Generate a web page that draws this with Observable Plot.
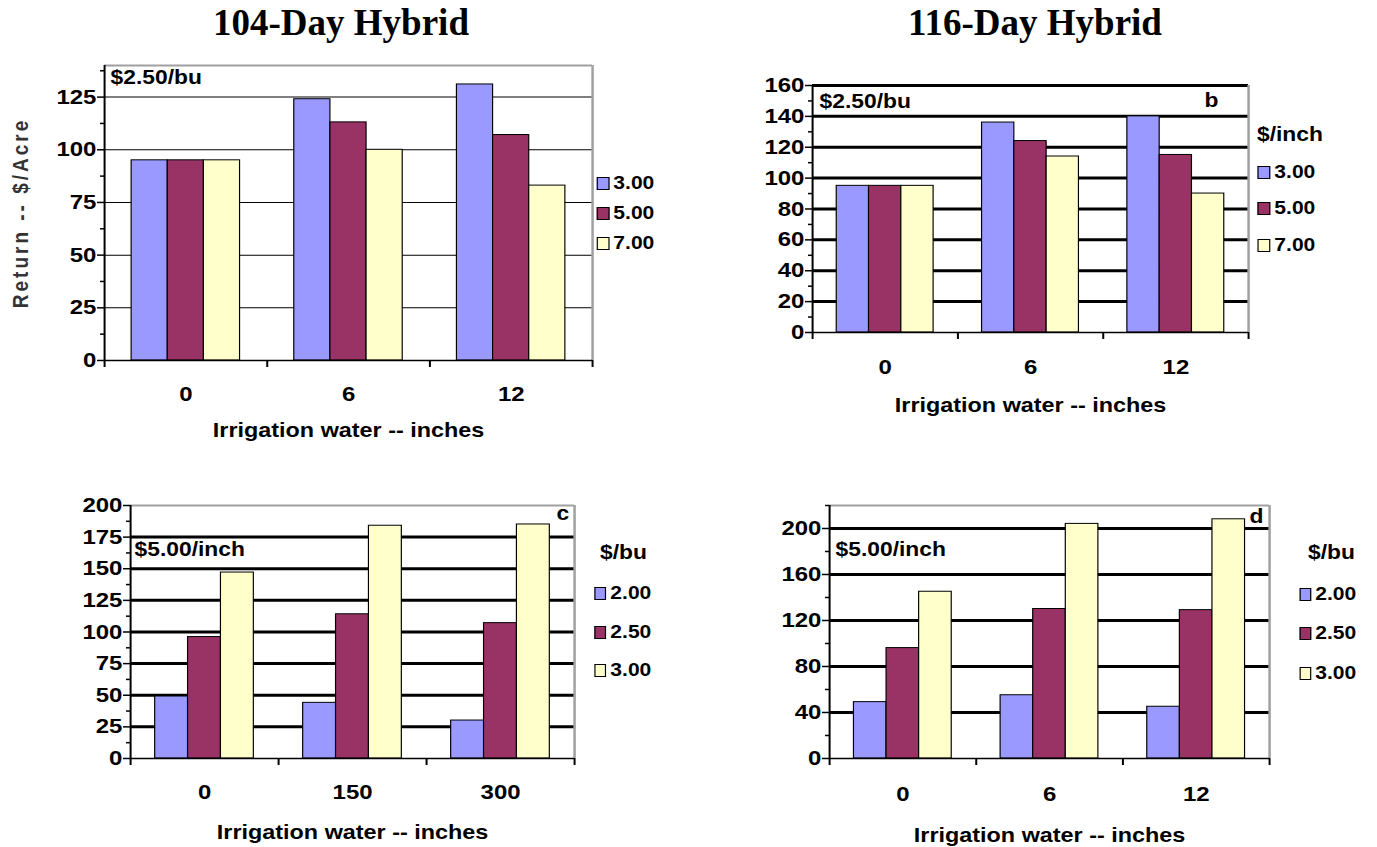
<!DOCTYPE html>
<html><head><meta charset="utf-8">
<script src="https://cdn.jsdelivr.net/npm/d3@7"></script>
<script src="https://cdn.jsdelivr.net/npm/@observablehq/plot@0.6"></script>
<style>
body{margin:0;background:#fff;}
#root{position:relative;width:1377px;height:847px;overflow:hidden;font-family:"Liberation Sans",Arial,sans-serif;}
.title{position:absolute;top:4px;width:690px;text-align:center;font:bold 37px/37px "Liberation Serif","Times New Roman",serif;color:#000;}
.panel{position:absolute;transform-origin:0 0;}
.legend-item{position:absolute;display:flex;align-items:center;height:24px;font-weight:bold;font-size:18px;color:#000;white-space:nowrap;}
.legend-title{font-size:19.5px;}
.swatch{display:inline-block;height:11px;border:1.5px solid #000;}
</style></head><body><div id="root"></div>
<script>
// horizontal stretch of the original chart images
const S = 1.17;

// categories
const irrigationInches = ["0", "6", "12"];
const irrigationC = ["0", "150", "300"];
const waterCostSeries = ["3.00", "5.00", "7.00"];   // $/inch
const cornPriceSeries = ["2.00", "2.50", "3.00"];   // $/bu
const seriesColors = ["#9999FF", "#993366", "#FFFFCC"];

// a: 104-day hybrid, $2.50/bu, by water cost
const a_300 = [95, 124, 131];
const a_500 = [95, 113, 107];
const a_700 = [95, 100, 83];
// b: 116-day hybrid, $2.50/bu, by water cost
const b_300 = [95, 136, 140];
const b_500 = [95, 124, 115];
const b_700 = [95, 114, 90];
// c: 104-day hybrid, $5.00/inch, by corn price
const c_200 = [49, 44, 30];
const c_250 = [96, 114, 107];
const c_300 = [147, 184, 185];
// d: 116-day hybrid, $5.00/inch, by corn price
const d_200 = [49, 55, 45];
const d_250 = [96, 130, 129];
const d_300 = [145, 204, 208];

// axis ticks
const ticksA = [0, 25, 50, 75, 100, 125];
const minorA = [12.5, 37.5, 62.5, 87.5, 112.5, 137.5];
const ticksB = [0, 20, 40, 60, 80, 100, 120, 140, 160];
const minorB = [10, 30, 50, 70, 90, 110, 130, 150];
const ticksC = [0, 25, 50, 75, 100, 125, 150, 175, 200];
const minorC = [12.5, 37.5, 62.5, 87.5, 112.5, 137.5, 162.5, 187.5];
const ticksD = [0, 40, 80, 120, 160, 200];
const minorD = [20, 60, 100, 140, 180, 220];

const xTitle = "Irrigation water -- inches";
const root = document.getElementById("root");
const u = v => v / S;

function addTitle(text, left) {
  const t = document.createElement("div");
  t.className = "title";
  t.style.left = left + "px";
  t.textContent = text;
  root.appendChild(t);
}

function panel(c) {
  const rows = [];
  c.values.forEach((vals, s) => vals.forEach((v, g) => rows.push({g, s, key: c.series[s], v})));
  const n = c.groups.length;
  const marks = [
    Plot.ruleY(c.grid, {stroke: "#000", strokeWidth: c.gridW}),
    c.topGray ? Plot.ruleY([c.yMax], {stroke: "#a0a0a0", strokeWidth: 2}) : null,
    Plot.ruleX([n], {stroke: "#a0a0a0", strokeWidth: u(2.5)}),
    Plot.rectY(rows, {
      x1: d => d.g + (0.75 + d.s) / 4.5,
      x2: d => d.g + (1.75 + d.s) / 4.5,
      y1: 0, y2: "v", fill: "key", stroke: "#000", strokeWidth: 1
    }),
    Plot.ruleY([0], {stroke: "#000", strokeWidth: 1.5}),
    Plot.ruleX([0], {stroke: "#000", strokeWidth: u(2)}),
    Plot.axisY({ticks: c.major, tickSize: u(7), tickPadding: 1, label: null, fontSize: 20.5, fontWeight: "bold", strokeWidth: 1.5}),
    Plot.axisY({ticks: c.minor, tickSize: u(4), tickFormat: () => "", label: null, strokeWidth: 1.5}),
    Plot.axisX({ticks: d3.range(n + 1), tickSize: 7, tickFormat: () => "", label: null, strokeWidth: u(2)}),
    Plot.axisX({ticks: c.groups.map((_, i) => i + 0.5), tickSize: 0, tickPadding: c.tickDy,
      tickFormat: t => c.groups[Math.floor(t)], label: null, fontSize: 20.5, fontWeight: "bold"}),
    Plot.text([xTitle], {frameAnchor: "bottom", dy: c.titleDy, lineAnchor: "top", textAnchor: "middle", fontSize: 20, fontWeight: "bold"}),
    ...c.annotations.map(a => Plot.text([a.text], {
      frameAnchor: a.anchor, dx: u(a.dx), dy: a.dy, lineAnchor: "top",
      textAnchor: "start", fontSize: 19.5, fontWeight: "bold"
    })),
    c.yLabel ? Plot.text([c.yLabel], {frameAnchor: "left", dx: u(c.yLabelDx), rotate: -90,
      textAnchor: "middle", lineAnchor: "middle", fontSize: 19, fontWeight: "bold", fill: "#333"}) : null
  ];
  const svg = Plot.plot({
    width: u(c.width), height: c.height,
    marginLeft: u(c.mL), marginRight: u(c.mR), marginTop: c.mT, marginBottom: c.mB,
    x: {domain: [0, n]},
    y: {domain: [0, c.yMax]},
    color: {domain: c.series, range: seriesColors},
    style: {fontFamily: "'Liberation Sans', Arial, sans-serif", fontSize: "20px", fontWeight: "bold", color: "#000", background: "transparent", overflow: "visible"},
    marks
  });
  d3.select(svg).selectAll("text").filter(function() { return this.textContent === c.yLabel; })
    .style("letter-spacing", "3px");
  const wrap = document.createElement("div");
  wrap.className = "panel";
  wrap.style.left = c.left + "px";
  wrap.style.top = c.top + "px";
  wrap.style.width = u(c.width) + "px";
  wrap.style.height = c.height + "px";
  wrap.style.transform = `scaleX(${S})`;
  wrap.appendChild(svg);
  svg.style.position = "absolute";
  svg.style.left = "0px";
  svg.style.top = "0px";
  if (c.legendTitle) {
    const lt = document.createElement("div");
    lt.className = "legend-item legend-title";
    lt.style.left = u(c.legendTitleX) + "px";
    lt.style.top = (c.legendTitleY - 12) + "px";
    lt.textContent = c.legendTitle;
    wrap.appendChild(lt);
  }
  c.series.forEach((name, i) => {
    const it = document.createElement("div");
    it.className = "legend-item";
    it.style.left = u(c.legendX) + "px";
    it.style.top = (c.legendY[i] - 12) + "px";
    const sw = document.createElement("span");
    sw.className = "swatch";
    sw.style.width = u(10) + "px";
    sw.style.background = seriesColors[i];
    sw.style.marginRight = u(4) + "px";
    it.appendChild(sw);
    it.appendChild(document.createTextNode(name));
    wrap.appendChild(it);
  });
  root.appendChild(wrap);
}

addTitle("104-Day Hybrid", -4);
addTitle("116-Day Hybrid", 690);

panel({
  left: 0, top: 50, width: 690, height: 400, mL: 104, mR: 98, mT: 15, mB: 90,
  groups: irrigationInches, series: waterCostSeries, values: [a_300, a_500, a_700],
  yMax: 140, major: ticksA, minor: minorA, grid: ticksA.slice(1), gridW: 1, topGray: true,
  tickDy: 26, titleDy: 62,
  annotations: [{text: "$2.50/bu", anchor: "top-left", dx: 6, dy: 5}],
  yLabel: "Return -- $/Acre", yLabelDx: -84,
  legendX: 597, legendY: [133, 163, 193]
});

panel({
  left: 690, top: 50, width: 687, height: 400, mL: 122, mR: 129, mT: 35, mB: 118,
  groups: irrigationInches, series: waterCostSeries, values: [b_300, b_500, b_700],
  yMax: 160, major: ticksB, minor: minorB, grid: ticksB.slice(1), gridW: 3, topGray: false,
  tickDy: 27, titleDy: 65,
  annotations: [{text: "$2.50/bu", anchor: "top-left", dx: 7, dy: 9},
                {text: "b", anchor: "top-right", dx: -44, dy: 8}],
  legendTitle: "$/inch", legendTitleX: 567, legendTitleY: 84,
  legendX: 568, legendY: [122, 158, 195]
});

panel({
  left: 0, top: 470, width: 690, height: 377, mL: 130, mR: 116, mT: 35, mB: 89,
  groups: irrigationC, series: cornPriceSeries, values: [c_200, c_250, c_300],
  yMax: 200, major: ticksC, minor: minorC, grid: ticksC.slice(1, -1), gridW: 3, topGray: true,
  tickDy: 26, titleDy: 66,
  annotations: [{text: "$5.00/inch", anchor: "top-left", dx: 4, dy: 37},
                {text: "c", anchor: "top-right", dx: -18, dy: 1}],
  legendTitle: "$/bu", legendTitleX: 600, legendTitleY: 82,
  legendX: 594, legendY: [123, 162, 200]
});

panel({
  left: 690, top: 470, width: 687, height: 377, mL: 139, mR: 108, mT: 35, mB: 89,
  groups: irrigationInches, series: cornPriceSeries, values: [d_200, d_250, d_300],
  yMax: 220, major: ticksD, minor: minorD, grid: ticksD.slice(1), gridW: 3, topGray: true,
  tickDy: 28, titleDy: 69,
  annotations: [{text: "$5.00/inch", anchor: "top-left", dx: 6, dy: 37},
                {text: "d", anchor: "top-right", dx: -20, dy: 4}],
  legendTitle: "$/bu", legendTitleX: 618, legendTitleY: 82,
  legendX: 609, legendY: [124, 163, 203]
});
</script></body></html>
